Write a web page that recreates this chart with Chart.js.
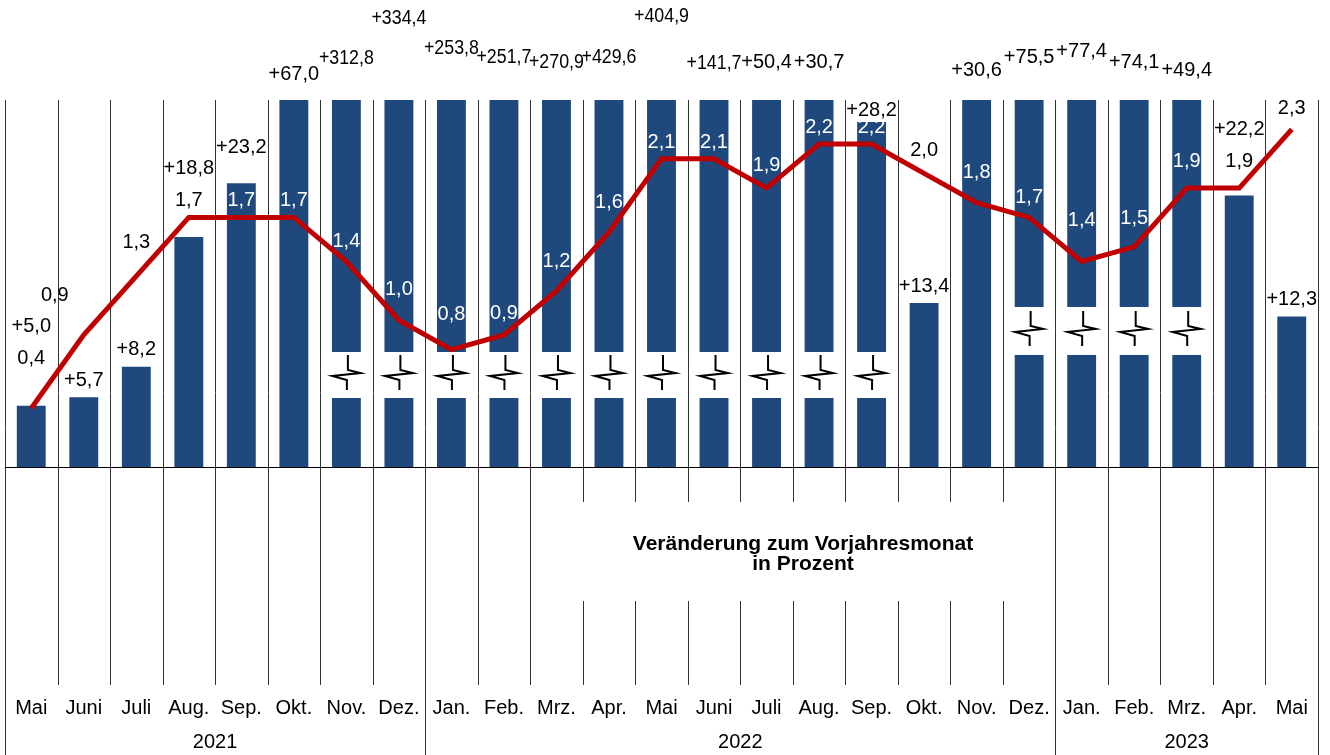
<!DOCTYPE html>
<html>
<head>
<meta charset="utf-8">
<script src="https://cdn.jsdelivr.net/npm/chart.js@4"></script>
<style>
  html, body { margin: 0; padding: 0; background: #fff; }
  canvas { display: block; }
</style>
</head>
<body>
<canvas id="chart" width="1330" height="755"></canvas>
<script>
// months Mai 2021 .. Mai 2023
const months = ["Mai","Juni","Juli","Aug.","Sep.","Okt.","Nov.","Dez.",
  "Jan.","Feb.","Mrz.","Apr.","Mai","Juni","Juli","Aug.","Sep.","Okt.","Nov.","Dez.",
  "Jan.","Feb.","Mrz.","Apr.","Mai"];
const yearLabels = ["2021", "2022", "2023"];
const yearStart = [0, 8, 20];

// change to previous year's month (bars), in percent
const changeValues = [5.0, 5.7, 8.2, 18.8, 23.2, 67.0, 312.8, 334.4,
  253.8, 251.7, 270.9, 429.6, 404.9, 141.7, 50.4, 30.7, 28.2, 13.4, 30.6, 75.5,
  77.4, 74.1, 49.4, 22.2, 12.3];
// rate (line)
const rateValues = [0.4, 0.9, 1.3, 1.7, 1.7, 1.7, 1.4, 1.0,
  0.8, 0.9, 1.2, 1.6, 2.1, 2.1, 1.9, 2.2, 2.2, 2.0, 1.8, 1.7,
  1.4, 1.5, 1.9, 1.9, 2.3];

// bars drawn with an axis break
const brokenLow = [6, 7, 8, 9, 10, 11, 12, 13, 14, 15, 16];
const brokenHigh = [19, 20, 21, 22];

const BAR_COLOR = "#1f497d";
const LINE_COLOR = "#c00000";
const FONT = '"Liberation Sans", Arial, sans-serif';

// label placement (pixels): fixed y for some bar labels, lift of line labels
const barLabelY = {4: 147, 5: 74, 6: 58, 7: 18, 8: 48, 9: 57, 10: 62, 11: 57, 12: 16,
  13: 63, 14: 62, 15: 62, 16: 110, 18: 70, 19: 57, 20: 51, 21: 62, 22: 70};
const lineLabelLift = [50, 39, 34, 17, 17, 17, 20, 31, 35, 21, 29, 30, 16, 16, 23,
  17, 17, 23, 30, 20, 41, 28, 27, 27, 21];
const lineLabelShift = {1: -29};

const fmt = (v, plus) => (plus ? "+" : "") + v.toFixed(1).replace(".", ",");

function zigzag(ctx, cx, cy) {
  ctx.save();
  ctx.strokeStyle = "#000";
  ctx.lineWidth = 2;
  ctx.lineJoin = "miter";
  ctx.beginPath();
  ctx.moveTo(cx + 1.5, cy - 20);
  ctx.lineTo(cx + 1.5, cy - 5);
  ctx.lineTo(cx + 14, cy - 2);
  ctx.lineTo(cx - 14, cy + 1);
  ctx.lineTo(cx + 0.5, cy + 5);
  ctx.lineTo(cx + 0.5, cy + 15);
  ctx.stroke();
  ctx.restore();
}

const overlay = {
  id: "overlay",
  beforeDatasetsDraw(chart) {
    const ctx = chart.ctx;
    const area = chart.chartArea;
    const n = months.length;
    const w = (area.right - area.left) / n;
    ctx.save();
    ctx.strokeStyle = "#333";
    ctx.lineWidth = 1;
    for (let i = 0; i <= n; i++) {
      const x = Math.round(area.left + i * w) + 0.5;
      const full = i === 0 || i === n || yearStart.includes(i);
      ctx.beginPath();
      if (!full && i >= 11 && i <= 19) {
        ctx.moveTo(x, area.top); ctx.lineTo(x, 502);
        ctx.moveTo(x, 601); ctx.lineTo(x, area.bottom);
      } else {
        ctx.moveTo(x, area.top);
        ctx.lineTo(x, full ? 755 : area.bottom);
      }
      ctx.stroke();
    }
    // month and year labels
    ctx.fillStyle = "#000";
    ctx.textAlign = "center";
    ctx.textBaseline = "middle";
    ctx.font = "20px " + FONT;
    months.forEach((m, i) => ctx.fillText(m, area.left + (i + 0.5) * w, 708));
    yearLabels.forEach((y, k) => {
      const a = yearStart[k];
      const b = k + 1 < yearStart.length ? yearStart[k + 1] : n;
      ctx.fillText(y, area.left + (a + b) / 2 * w, 742);
    });
    ctx.font = "bold 21px " + FONT;
    ctx.fillText("Veränderung zum Vorjahresmonat", 803, 544);
    ctx.fillText("in Prozent", 803, 564);
    ctx.restore();
  },
  afterDatasetDraw(chart, args) {
    if (args.index !== 0) return;
    const ctx = chart.ctx;
    const area = chart.chartArea;
    const y = chart.scales.y;
    const bars = chart.getDatasetMeta(0).data;
    const drawBreak = (idx, lo, hi) => {
      idx.forEach(i => {
        const b = bars[i];
        const top = y.getPixelForValue(hi), bot = y.getPixelForValue(lo);
        ctx.fillStyle = "#fff";
        ctx.fillRect(b.x - b.width / 2 - 1, top, b.width + 2, bot - top);
        zigzag(ctx, b.x, (top + bot) / 2);
      });
    };
    drawBreak(brokenLow, 5.64, 9.4);
    drawBreak(brokenHigh, 9.16, 13.08);
    // zero line
    const y0 = Math.round(y.getPixelForValue(0)) + 0.5;
    ctx.save();
    ctx.strokeStyle = "#000";
    ctx.lineWidth = 1;
    ctx.beginPath();
    ctx.moveTo(area.left, y0);
    ctx.lineTo(area.right, y0);
    ctx.stroke();
    ctx.restore();
  },
  afterDatasetsDraw(chart) {
    const ctx = chart.ctx;
    const area = chart.chartArea;
    const bars = chart.getDatasetMeta(0).data;
    const pts = chart.getDatasetMeta(1).data;
    ctx.save();
    ctx.textAlign = "center";
    ctx.textBaseline = "middle";
    pts.forEach((p, i) => {
      const barTop = Math.max(area.top, bars[i].y);
      const ly = p.y - lineLabelLift[i];
      const inside = ly + 6 > barTop;
      ctx.font = "20px " + FONT;
      ctx.fillStyle = inside ? "#fff" : "#000";
      ctx.fillText(fmt(rateValues[i], false), p.x + (lineLabelShift[i] || 0), ly);

      let by;
      if (barLabelY[i] !== undefined) {
        by = barLabelY[i];
      } else {
        by = barTop - 17;
        if (!inside && ly > barTop - 55) by = ly - 32;
      }
      ctx.font = "20px " + FONT;
      ctx.fillStyle = "#000";
      ctx.fillText(fmt(changeValues[i], true), bars[i].x, by, 55);
    });
    ctx.restore();
  }
};

new Chart(document.getElementById("chart").getContext("2d"), {
  data: {
    labels: months,
    datasets: [
      {
        type: "bar",
        data: changeValues,
        backgroundColor: BAR_COLOR,
        barPercentage: 0.55,
        categoryPercentage: 1.0,
        yAxisID: "y",
        order: 2
      },
      {
        type: "line",
        data: rateValues,
        borderColor: LINE_COLOR,
        borderWidth: 5,
        pointRadius: 0,
        tension: 0,
        yAxisID: "y1",
        order: 1
      }
    ]
  },
  options: {
    responsive: false,
    animation: false,
    devicePixelRatio: 1,
    layout: { padding: { left: 5, right: 12, top: 100, bottom: 70 } },
    plugins: { legend: { display: false }, tooltip: { enabled: false } },
    scales: {
      x: { display: false, offset: true },
      y: { display: false, min: -17.82, max: 30 },
      y1: { display: false, min: -17.82 / 12, max: 2.5 }
    }
  },
  plugins: [overlay]
});
</script>
</body>
</html>
